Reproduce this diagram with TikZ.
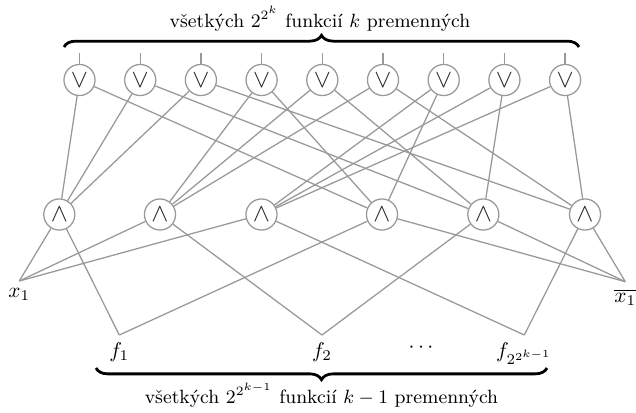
\documentclass[tikz,border=0pt]{standalone}
\usetikzlibrary{decorations.pathreplacing}
\begin{document}
\begin{tikzpicture}[x=0.4695pt,y=-0.4695pt,
  gate/.style={circle,draw=gray!80,line width=0.6pt,minimum size=14.6pt,inner sep=0pt,text=black!85,font=\large},
  wire/.style={draw=gray!80,line width=0.6pt},
  lbl/.style={anchor=north,inner sep=3.3pt},
  caption/.style={font=\small,anchor=base,inner sep=0pt},
  bracestyle/.style={decorate,decoration={brace,amplitude=5.5pt},line width=1.3pt},
]
\useasboundingbox (0,0) rectangle (636,412);

% OR gates in the top row, each with a short output stub
\foreach \i in {1,...,9} {
  \node[gate] (o\i) at ({79.5+60.7*(\i-1)},80) {$\vee$};
  \coordinate (s\i) at ({79.5+60.7*(\i-1)},53);
  \draw[wire] (o\i) -- (s\i);
}

% AND gates in the middle row
\foreach \x [count=\i] in {59.3,160,261.5,382,483.3,585} {
  \node[gate] (a\i) at (\x,214.5) {$\wedge$};
}

% inputs
\node[lbl] (x1) at (19.3,281) {$x_1$};
\node[lbl] (nx1) at (625.3,281.7) {$\overline{x_1}$};
\node[lbl] (f1) at (119.3,335) {$f_1$};
\node[lbl] (f2) at (322,335) {$f_2$};
\node[lbl] (f3) at (524.3,335) {$f_{2^{2^{k-1}}}$};
\node (dots) at (421,348) {$\cdots$};

% AND gates: x1 and not-x1 with each f
\foreach \a/\f in {1/f1,2/f2,3/f3} {
  \draw[wire] (a\a) -- (x1.north);
  \draw[wire] (a\a) -- (\f.north);
}
\foreach \a/\f in {4/f1,5/f2,6/f3} {
  \draw[wire] (a\a) -- (nx1.north);
  \draw[wire] (a\a) -- (\f.north);
}

% OR gates: one left AND gate with one right AND gate
\foreach \l in {1,2,3} {
  \foreach \r in {1,2,3} {
    \pgfmathtruncatemacro{\o}{3*(\l-1)+\r}
    \pgfmathtruncatemacro{\rr}{3+\r}
    \draw[wire] (o\o) -- (a\l);
    \draw[wire] (o\o) -- (a\rr);
  }
}

% braces and captions
\coordinate (tbl) at (64,47);
\coordinate (tbr) at (579,47);
\coordinate (bbl) at (96,368);
\coordinate (bbr) at (547,368);
\draw[bracestyle] (tbl) -- (tbr);
\draw[bracestyle] (bbr) -- (bbl);
\node[caption] (toptext) at (320,27.5) {všetkých $2^{2^k}$ funkcií $k$ premenných};
\node[caption] (bottext) at (321.5,403.5) {všetkých $2^{2^{k-1}}$ funkcií $k-1$ premenných};
\end{tikzpicture}
\end{document}
